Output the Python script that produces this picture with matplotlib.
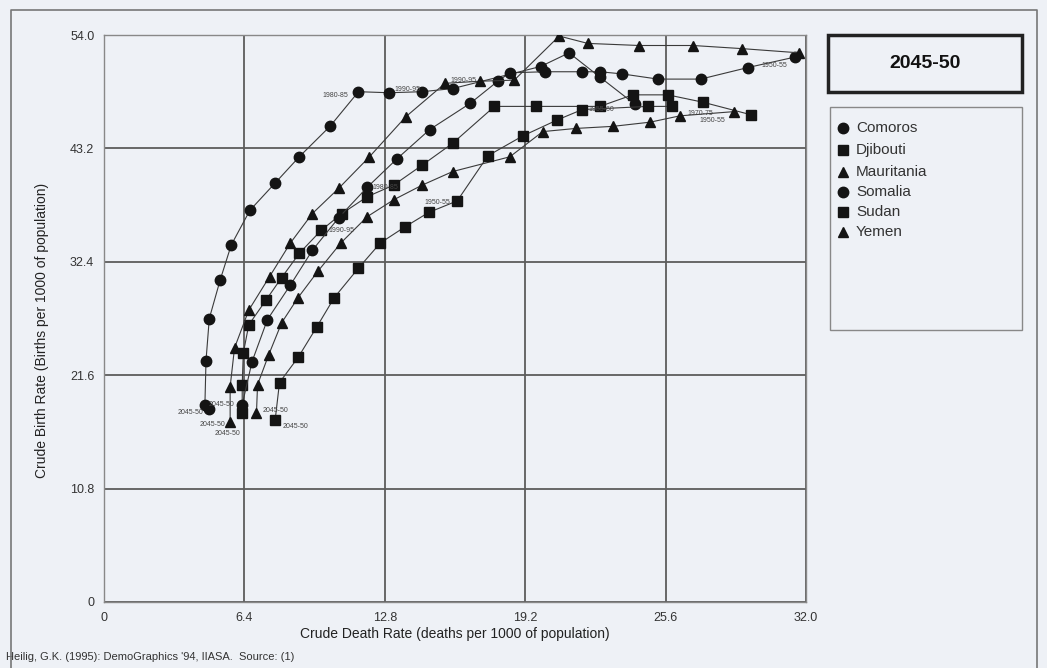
import matplotlib
matplotlib.use("Agg")
import matplotlib.pyplot as plt
from matplotlib.patches import Rectangle
from matplotlib.lines import Line2D

plt.rcParams['font.family'] = ['Liberation Sans Narrow', 'Liberation Sans', 'DejaVu Sans']

# Crude death rate (x) and crude birth rate (y), 1950-55 ... 2045-50
comoros_x = [24.2, 22.6, 21.2, 19.9, 15.9, 14.5, 13.0, 11.6, 10.3, 8.9, 7.8, 6.65, 5.8, 5.3, 4.8, 4.65, 4.6, 4.8]
comoros_y = [47.4, 50.0, 52.3, 51.0, 48.9, 48.6, 48.5, 48.6, 45.3, 42.4, 39.9, 37.3, 34.0, 30.7, 27.0, 23.0, 18.8, 18.4]

djibouti_x = [29.5, 27.3, 25.7, 24.1, 22.6, 19.7, 17.8, 15.9, 14.5, 13.2, 12.0, 10.85, 9.9, 8.9, 8.1, 7.4, 6.6, 6.35, 6.3, 6.3]
djibouti_y = [46.4, 47.6, 48.3, 48.3, 47.2, 47.2, 47.2, 43.7, 41.6, 39.7, 38.6, 37.0, 35.4, 33.2, 30.9, 28.8, 26.4, 23.7, 20.7, 18.0]

mauritania_x = [28.7, 26.25, 24.9, 23.2, 21.5, 20.0, 18.5, 15.9, 14.5, 13.2, 12.0, 10.8, 9.75, 8.85, 8.1, 7.5, 7.0, 6.95]
mauritania_y = [46.7, 46.3, 45.7, 45.3, 45.1, 44.8, 42.4, 41.0, 39.7, 38.3, 36.7, 34.2, 31.5, 29.0, 26.6, 23.5, 20.7, 18.0]

somalia_x = [31.5, 29.35, 27.2, 25.25, 23.6, 22.6, 21.8, 20.1, 18.5, 17.95, 16.7, 14.85, 13.35, 12.0, 10.7, 9.5, 8.5, 7.45, 6.75, 6.3]
somalia_y = [51.9, 50.9, 49.8, 49.8, 50.3, 50.5, 50.5, 50.5, 50.4, 49.6, 47.5, 45.0, 42.2, 39.5, 36.6, 33.5, 30.2, 26.9, 22.9, 18.8]

sudan_x = [25.9, 24.8, 21.8, 20.65, 19.1, 17.5, 16.1, 14.8, 13.7, 12.6, 11.6, 10.5, 9.7, 8.85, 8.0, 7.8]
sudan_y = [47.2, 47.2, 46.9, 45.9, 44.4, 42.5, 38.2, 37.1, 35.7, 34.2, 31.8, 29.0, 26.2, 23.3, 20.9, 17.3]

yemen_x = [31.7, 29.1, 26.85, 24.4, 22.05, 20.75, 18.7, 17.15, 15.55, 13.75, 12.1, 10.7, 9.5, 8.5, 7.55, 6.6, 5.95, 5.75, 5.75]
yemen_y = [52.3, 52.7, 53.0, 53.0, 53.2, 53.9, 49.7, 49.6, 49.4, 46.2, 42.4, 39.4, 37.0, 34.2, 31.0, 27.8, 24.2, 20.5, 17.1]

countries = ["Comoros", "Djibouti", "Mauritania", "Somalia", "Sudan", "Yemen"]
series = {
    "Comoros": (comoros_x, comoros_y, "o"),
    "Djibouti": (djibouti_x, djibouti_y, "s"),
    "Mauritania": (mauritania_x, mauritania_y, "^"),
    "Somalia": (somalia_x, somalia_y, "o"),
    "Sudan": (sudan_x, sudan_y, "s"),
    "Yemen": (yemen_x, yemen_y, "^"),
}

xticks = [0, 6.4, 12.8, 19.2, 25.6, 32.0]
xtick_labels = ["0", "6.4", "12.8", "19.2", "25.6", "32.0"]
yticks = [0, 10.8, 21.6, 32.4, 43.2, 54.0]
ytick_labels = ["0", "10.8", "21.6", "32.4", "43.2", "54.0"]

# (country, point index, text, dx px, dy px, ha)
period_labels = [
    ("Comoros", 7, "1980-85", -10, -4, "right"),
    ("Comoros", 6, "1990-95", 5, 3, "left"),
    ("Yemen", 8, "1990-95", 5, 3, "left"),
    ("Somalia", 13, "1980-85", 5, 0, "left"),
    ("Somalia", 0, "1950-55", -8, -8, "right"),
    ("Sudan", 2, "1955-60", 6, 0, "left"),
    ("Mauritania", 1, "1970-75", 8, 2, "left"),
    ("Mauritania", 0, "1950-55", -8, -9, "right"),
    ("Sudan", 6, "1950-55", -7, -2, "right"),
    ("Djibouti", 12, "1990-95", 7, 0, "left"),
]
# end-of-path labels: (country, dx px, dy px, ha)
end_labels = [
    ("Comoros", -6, -4, "right"),
    ("Somalia", -8, 0, "right"),
    ("Yemen", -5, -2, "right"),
    ("Djibouti", -2, -20, "right"),
    ("Mauritania", 6, 3, "left"),
    ("Sudan", 7, -6, "left"),
]

bg = "#eef1f6"
fig = plt.figure(figsize=(10.47, 6.68), dpi=100)
fig.patch.set_facecolor(bg)

W, H = 1047, 668
ax = fig.add_axes([104 / W, 1 - 602 / H, (806 - 104) / W, (602 - 35) / H])
ax.set_facecolor(bg)
ax.set_xlim(0, 32)
ax.set_ylim(0, 54)
ax.set_xticks(xticks)
ax.set_xticklabels(xtick_labels)
ax.set_yticks(yticks)
ax.set_yticklabels(ytick_labels)
ax.tick_params(length=0, pad=7, labelsize=9, colors="#333")
ax.grid(color="#5c5c5c", lw=1.3)
ax.set_axisbelow(True)
for sp in ax.spines.values():
    sp.set_color("#888")
    sp.set_linewidth(1.0)

for name in countries:
    xs, ys, m = series[name]
    ms = 7.5 if m == "o" else 7
    ax.plot(xs, ys, color="#3a3a3a", lw=0.8, marker=m, ms=ms,
            mfc="#141414", mec="#141414", zorder=3)

for name, dx, dy, ha in end_labels:
    xs, ys, _ = series[name]
    ax.annotate("2045-50", (xs[-1], ys[-1]), xytext=(dx, dy), textcoords="offset pixels",
                ha=ha, va="center", fontsize=5, color="#444", zorder=4)

for name, i, txt, dx, dy, ha in period_labels:
    xs, ys, _ = series[name]
    ax.annotate(txt, (xs[i], ys[i]), xytext=(dx, dy), textcoords="offset pixels",
                ha=ha, va="center", fontsize=5, color="#444", zorder=4)

fig.text(42 / W, 1 - 330 / H, "Crude Birth Rate (Births per 1000 of population)",
         rotation=90, ha="center", va="center", fontsize=10, color="#222")
fig.text(455 / W, 1 - 634 / H, "Crude Death Rate (deaths per 1000 of population)",
         ha="center", va="center", fontsize=10, color="#222")
fig.text(6 / W, 1 - 657 / H, "Heilig, G.K. (1995): DemoGraphics '94, IIASA.  Source: (1)",
         ha="left", va="center", fontsize=8, color="#333")

# overlay in pixel coordinates for frame, title box and legend
ov = fig.add_axes([0, 0, 1, 1], zorder=5)
ov.set_xlim(0, W)
ov.set_ylim(H, 0)
ov.axis("off")
ov.patch.set_alpha(0)

ov.add_line(Line2D([11, 11, 1037, 1037], [668, 10, 10, 668], color="#777", lw=1.2))
ov.add_patch(Rectangle((828, 35), 194, 57, fill=False, ec="#222", lw=2.5))
ov.text(925, 64, "2045-50", ha="center", va="center", fontsize=14,
        fontweight="bold", color="#111", family=["Liberation Sans", "DejaVu Sans"])
ov.add_patch(Rectangle((830, 107), 192, 223, fill=False, ec="#888", lw=1.0))

leg_y = [128, 150, 172, 192, 212, 232]
for name, yy in zip(countries, leg_y):
    m = series[name][2]
    ov.plot([843], [yy], marker=m, ms=7.5 if m == "o" else 7, color="#141414", ls="none")
    ov.text(856, yy, name, ha="left", va="center", fontsize=11, color="#333",
            family=["Liberation Sans", "DejaVu Sans"])

fig.savefig("out.png", dpi=100, facecolor=bg)
